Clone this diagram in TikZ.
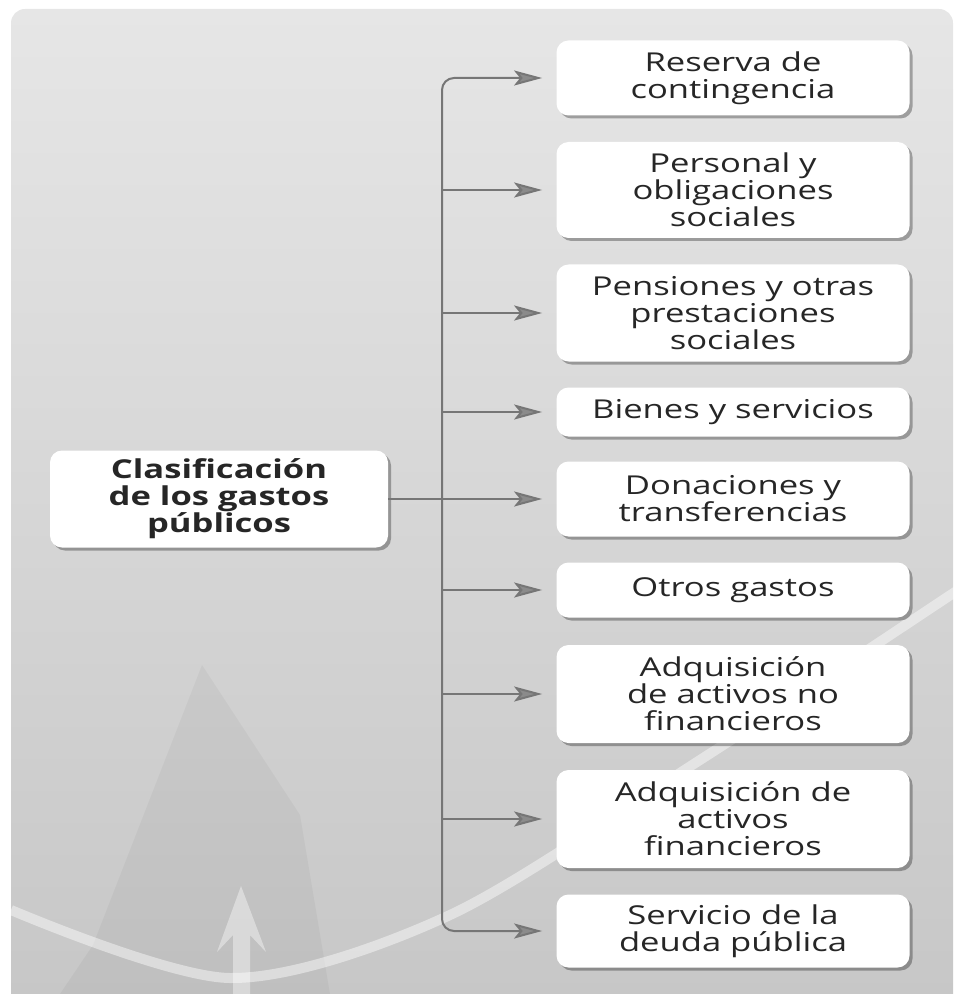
\documentclass[tikz,border=0pt]{standalone}
\usepackage{fontspec}
\setmainfont[FakeStretch=1.33]{Open Sans}
\usepackage{xcolor}
\usetikzlibrary{positioning,shadows,arrows.meta,calc}

\definecolor{fondoclaro}{HTML}{E6E6E6}
\definecolor{fondoscuro}{HTML}{C6C6C6}
\definecolor{linea}{HTML}{767676}
\definecolor{texto}{HTML}{262626}

\begin{document}
\begin{tikzpicture}[x=0.5pt,y=-0.5pt,
  gasto/.style={fill=white, rounded corners=6pt, minimum width=176.5pt, inner sep=2pt,
    align=center, text=texto, font=\fontsize{13}{13.5}\selectfont,
    drop shadow={shadow xshift=1.5pt, shadow yshift=-1.5pt, fill=black, opacity=0.3}},
  raiz/.style={gasto, minimum width=169pt, minimum height=48.5pt,
    font=\fontsize{13}{13.5}\selectfont\bfseries},
  rama/.style={draw=linea, line width=1pt, shorten >=7pt,
    -{Stealth[length=14pt,width=7.5pt,inset=3pt,fill=linea!85]}}]
\useasboundingbox (0,0) rectangle (958,994);

% Background panel
\begin{scope}
\clip (0,0) rectangle (958,994);
\shade[rounded corners=7pt, top color=fondoclaro, bottom color=fondoscuro] (11,9) rectangle (953,1030);
\fill[black, opacity=0.035] (202,665) -- (300,815) -- (330,994) -- (60,994) -- (93,945) -- cycle;
\draw[white, opacity=0.45, line width=5pt] plot[smooth] coordinates {(11,910) (230,978) (450,915) (700,760) (958,590)};
\fill[white, opacity=0.4] (233,994) -- (233,935) -- (217,952) -- (241,886) -- (266,952) -- (250,935) -- (250,994) -- cycle;
\end{scope}

% Root
\node[raiz] (raiz) at (219,499) {Clasificación\\de los gastos\\públicos};

% Classes
\node[gasto, minimum height=37.5pt] (g1) at (733,78) {Reserva de\\contingencia};
\node[gasto, minimum height=48pt] (g2) at (733,190) {Personal y\\obligaciones\\sociales};
\node[gasto, minimum height=48.5pt] (g3) at (733,313) {Pensiones y otras\\prestaciones\\sociales};
\node[gasto, minimum height=24.5pt] (g4) at (733,412) {Bienes y servicios};
\node[gasto, minimum height=37.5pt] (g5) at (733,499) {Donaciones y\\transferencias};
\node[gasto, minimum height=27.5pt] (g6) at (733,590) {Otros gastos};
\node[gasto, minimum height=49pt] (g7) at (733,694) {Adquisición\\de activos no\\financieros};
\node[gasto, minimum height=49pt] (g8) at (733,819) {Adquisición de\\activos\\financieros};
\node[gasto, minimum height=36.5pt] (g9) at (733,931) {Servicio de la\\deuda pública};

% Connectors
\coordinate (bus) at (442,499);
\draw[rama] (raiz.east) -- (g5.west);
\draw[rama, rounded corners=6pt] (bus) |- (g1.west);
\draw[rama, rounded corners=6pt] (bus) |- (g9.west);
\foreach \n in {2,3,4,6,7,8}
  \draw[rama] (bus |- g\n.west) -- (g\n.west);

\end{tikzpicture}
\end{document}
